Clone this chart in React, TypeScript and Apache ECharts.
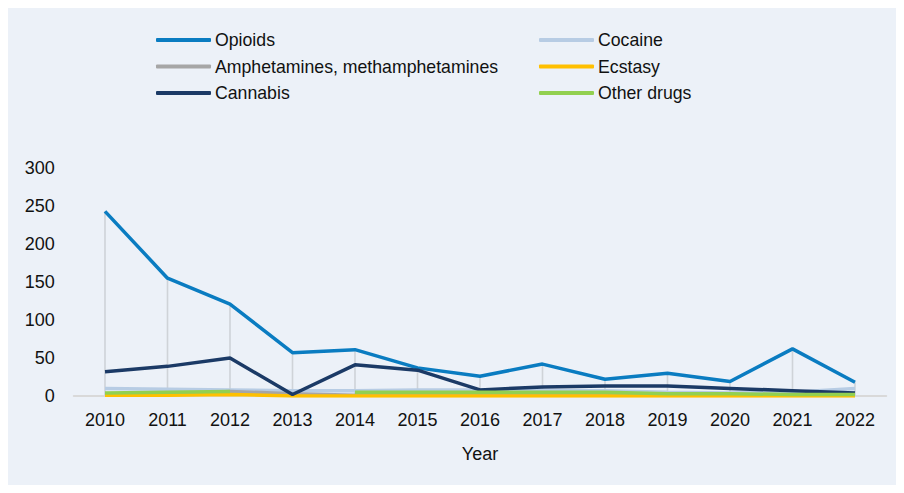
import React, { useEffect, useRef } from "react";
import * as echarts from "echarts";

const years = ["2010", "2011", "2012", "2013", "2014", "2015", "2016", "2017", "2018", "2019", "2020", "2021", "2022"];
const opioids = [243, 155, 121, 57, 61, 37, 26, 42, 22, 30, 19, 62, 18];
const cocaine = [10, 9, 8, 7, 7, 8, 8, 7, 7, 5, 4, 5, 10];
const amphetamines = [1, 2, 6, 3, 1, 2, 3, 2, 2, 1, 1, 1, 1];
const ecstasy = [1, 1, 2, 0, 0, 0, 0, 0, 0, 0, 0, 0, 0];
const cannabis = [32, 39, 50, 2, 41, 34, 8, 12, 13, 13, 10, 7, 4];
const otherDrugs: (number | null)[] = [4, 5, 6, null, 5, 5, 5, 5, 5, 3, 3, 2, 2];
const yTicks = { min: 0, max: 300, interval: 50 };

const seriesDefs = [
  { name: "Opioids", data: opioids, color: "#0A7CC1" },
  { name: "Cocaine", data: cocaine, color: "#B7CCE4" },
  { name: "Amphetamines, methamphetamines", data: amphetamines, color: "#A6A6A6" },
  { name: "Ecstasy", data: ecstasy, color: "#FFC000" },
  { name: "Cannabis", data: cannabis, color: "#1B3A66" },
  { name: "Other drugs", data: otherDrugs, color: "#92D050" },
];

export default function App() {
  const ref = useRef<HTMLDivElement>(null);
  useEffect(() => {
    if (!ref.current) return;
    const chart = echarts.init(ref.current, undefined, { renderer: "svg" });
    const hiLo = years.map((_, i) => {
      const vals = seriesDefs
        .map((s) => s.data[i])
        .filter((v) => v !== null && v !== undefined) as number[];
      return [i, Math.max(...vals), Math.min(...vals)];
    });
    const font = "'Liberation Sans', Arial, sans-serif";
    const legendCommon = {
      orient: "vertical" as const,
      top: 23,
      itemWidth: 55,
      itemHeight: 4,
      itemGap: 8.5,
      icon: "roundRect",
      textStyle: { fontSize: 17.7, color: "#111", fontFamily: font, padding: [0, 0, 0, -1] },
      padding: 0,
    };
    chart.setOption({
      animation: false,
      backgroundColor: "#ECF1F8",
      textStyle: { fontFamily: font },
      legend: [
        { ...legendCommon, left: 148, data: ["Opioids", "Amphetamines, methamphetamines", "Cannabis"] },
        { ...legendCommon, left: 531, data: ["Cocaine", "Ecstasy", "Other drugs"] },
      ],
      grid: { left: 65.75, right: 9.75, top: 160, bottom: 89 },
      xAxis: {
        type: "category",
        data: years,
        boundaryGap: true,
        name: "Year",
        nameLocation: "middle",
        nameGap: 49,
        nameTextStyle: { fontSize: 18, color: "#111", fontFamily: font },
        axisLine: { show: true, lineStyle: { color: "#D9D9D9", width: 2 } },
        axisTick: { show: false },
        axisLabel: { fontSize: 18, color: "#111", margin: 15, fontFamily: font },
        splitLine: { show: false },
      },
      yAxis: {
        type: "value",
        min: yTicks.min,
        max: yTicks.max,
        interval: yTicks.interval,
        axisLine: { show: false },
        axisTick: { show: false },
        splitLine: { show: false },
        axisLabel: { fontSize: 18, color: "#111", margin: 19, fontFamily: font },
      },
      series: [
        {
          type: "custom",
          name: "hilo",
          silent: true,
          z: 1,
          data: hiLo,
          encode: { x: 0, y: [1, 2] },
          renderItem: (params: any, api: any) => {
            const top = api.coord([api.value(0), api.value(1)]);
            const bot = api.coord([api.value(0), api.value(2)]);
            return {
              type: "line",
              shape: { x1: top[0], y1: top[1], x2: bot[0], y2: bot[1] },
              style: { stroke: "#CFD3D8", lineWidth: 1.6 },
            };
          },
        },
        ...seriesDefs.map((s, i) => ({
          type: "line",
          name: s.name,
          data: s.data,
          symbol: "none",
          showSymbol: false,
          connectNulls: false,
          z: 2 + i,
          lineStyle: { color: s.color, width: 3.5 },
          itemStyle: { color: s.color },
        })),
      ],
    });
    return () => chart.dispose();
  }, []);
  return <div ref={ref} style={{ width: 888, height: 477 }} />;
}
